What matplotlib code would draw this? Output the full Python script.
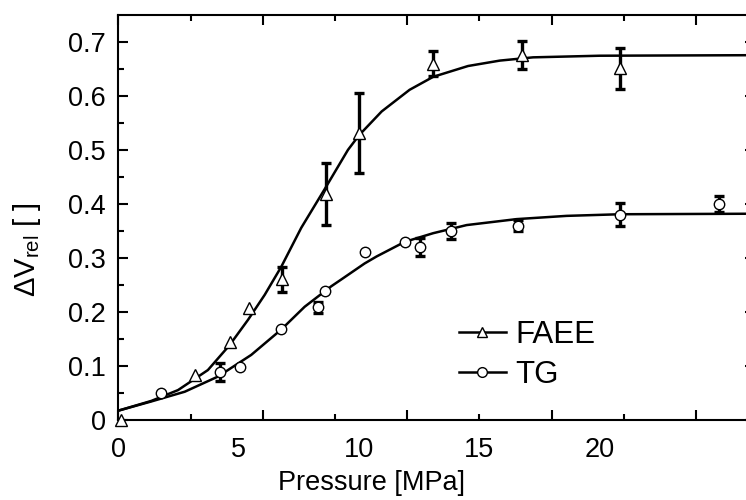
"""Volume change vs pressure for FAEE and TG, with fitted curves."""

import matplotlib

matplotlib.use("Agg")
import matplotlib.pyplot as plt
from matplotlib.lines import Line2D

plt.rcParams["font.family"] = ["Liberation Sans", "DejaVu Sans"]
plt.rcParams["mathtext.fontset"] = "custom"
plt.rcParams["mathtext.rm"] = "Liberation Sans"

# measured points (pressure, relative volume change, error)
faee_p = [0.1, 3.2, 4.63, 5.41, 6.8, 8.62, 10.0, 13.08, 16.75, 20.83]
faee_v = [0.0, 0.083, 0.144, 0.208, 0.261, 0.418, 0.532, 0.659, 0.675, 0.651]
faee_err = [0, 0, 0, 0, 0.023, 0.057, 0.074, 0.023, 0.026, 0.038]

tg_p = [1.79, 4.24, 5.04, 6.77, 8.29, 8.6, 10.25, 11.91, 12.53, 13.84, 16.61, 20.83, 24.95]
tg_v = [0.050, 0.089, 0.099, 0.169, 0.209, 0.239, 0.311, 0.330, 0.320, 0.350, 0.360, 0.380, 0.400]
tg_err = [0, 0.017, 0, 0, 0.010, 0, 0, 0, 0.017, 0.015, 0.010, 0.021, 0.015]

# fitted curves
faee_fit_p = [0, 1.37, 2.48, 3.72, 4.62, 5.39, 6.08, 6.77, 7.60, 8.58, 9.54, 10.0,
              10.94, 12.1, 13.08, 14.53, 15.85, 17.23, 20.0, 26.5]
faee_fit_v = [0.018, 0.036, 0.056, 0.093, 0.139, 0.186, 0.232, 0.284, 0.356, 0.428,
              0.500, 0.527, 0.571, 0.611, 0.635, 0.655, 0.665, 0.671, 0.674, 0.675]

tg_fit_p = [0, 1.37, 2.76, 4.14, 5.52, 6.77, 7.74, 8.85, 9.28, 10.23, 10.73, 11.9,
            13.08, 14.47, 16.54, 18.62, 20.83, 26.5]
tg_fit_v = [0.018, 0.035, 0.053, 0.081, 0.121, 0.168, 0.210, 0.248, 0.261, 0.290,
            0.303, 0.330, 0.346, 0.361, 0.372, 0.378, 0.381, 0.382]

x_label_ticks = [0, 5, 10, 15, 20]
x_mark_major = [0, 6, 12, 18, 24]
x_mark_minor = [3, 9, 15, 21]
y_ticks = [0, 0.1, 0.2, 0.3, 0.4, 0.5, 0.6, 0.7]
y_ticklabels = ["0", "0.1", "0.2", "0.3", "0.4", "0.5", "0.6", "0.7"]

fig = plt.figure(figsize=(7.46, 5.0), dpi=100)
ax = fig.add_axes([0.1586, 0.1592, 0.8535, 0.8116])

# fit lines
ax.plot(faee_fit_p, faee_fit_v, color="black", linewidth=1.8, zorder=2)
ax.plot(tg_fit_p, tg_fit_v, color="black", linewidth=1.8, zorder=2)


def draw_points(p, v, err, marker, ms):
    ep = [x for x, e in zip(p, err) if e > 0]
    ev = [y for y, e in zip(v, err) if e > 0]
    ee = [e for e in err if e > 0]
    ax.errorbar(ep, ev, yerr=ee, fmt="none", ecolor="black", elinewidth=2.4,
                capsize=3.6, capthick=2.4, zorder=3)
    ax.plot(p, v, linestyle="none", marker=marker, markersize=ms,
            markerfacecolor="white", markeredgecolor="black",
            markeredgewidth=1.0, zorder=4, clip_on=False)


draw_points(faee_p, faee_v, faee_err, "^", 8.5)
draw_points(tg_p, tg_v, tg_err, "o", 7.5)

ax.set_xlim(0, 26.45)
ax.set_ylim(0, 0.75)

# tick marks (inward on all sides)
ax.set_xticks(x_mark_major)
ax.set_xticks(x_mark_minor, minor=True)
ax.set_yticks(y_ticks)
ax.set_yticklabels(y_ticklabels)
ax.set_yticks([0.05, 0.15, 0.25, 0.35, 0.45, 0.55, 0.65], minor=True)
ax.tick_params(which="both", direction="in", top=True, right=True, width=1.5)
ax.tick_params(which="major", length=7.2)
ax.tick_params(which="minor", length=4.0)
ax.tick_params(axis="x", labelbottom=False)
ax.tick_params(axis="y", labelsize=19.5, pad=9)
for s in ax.spines.values():
    s.set_linewidth(1.5)

# x tick labels sit at their own positions
sec = ax.secondary_xaxis("bottom")
sec.set_xticks(x_label_ticks)
sec.tick_params(length=0, labelsize=19.5, pad=12)
sec.spines["bottom"].set_visible(False)

ax.set_xlabel("Pressure [MPa]", fontsize=19.5)
ax.xaxis.set_label_coords(0.397, -0.122)
ax.set_ylabel("\u0394V$_{\\mathrm{rel}}$ [ ]", fontsize=21)
ax.yaxis.set_label_coords(-0.118, 0.42)

handles = [
    Line2D([], [], color="black", linewidth=1.8, marker="^", markersize=7,
           markerfacecolor="white", markeredgecolor="black", markeredgewidth=1.0),
    Line2D([], [], color="black", linewidth=1.8, marker="o", markersize=7,
           markerfacecolor="white", markeredgecolor="black", markeredgewidth=1.0),
]
ax.legend(handles, ["FAEE", "TG"], loc="upper left", bbox_to_anchor=(0.535, 0.248),
          frameon=False, fontsize=22.5, handlelength=1.5, handletextpad=0.3,
          borderpad=0, borderaxespad=0, labelspacing=0.33)

fig.savefig("out.png", dpi=100)
